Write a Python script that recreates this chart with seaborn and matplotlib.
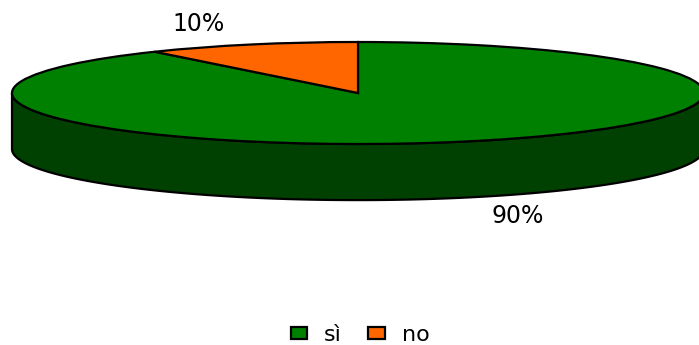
import numpy as np
import matplotlib
matplotlib.use("Agg")
import matplotlib.pyplot as plt
import matplotlib.colors as mcolors
import seaborn as sns

# Survey answers
categories = ["sì", "no"]
values = [90, 10]
colors = ["#008000", "#ff6600"]

# Where each percentage label sits (axes fraction)
label_pos = [(0.740, 0.374), (0.284, 0.930)]

sns.set_theme(style="white")
plt.rcParams["font.family"] = ["DejaVu Sans"]

fig = plt.figure(figsize=(6.99, 3.45), dpi=100)
ax = fig.add_axes([0, 0, 1, 1])

# Top face of the pie, squashed into an ellipse by the axis limits
wedges, _ = ax.pie(
    values,
    colors=colors,
    startangle=90,
    counterclock=False,
    radius=1.0,
    center=(0, 0),
    frame=False,
    wedgeprops=dict(edgecolor="black", linewidth=1.6),
)

depth = 1.10  # thickness of the disc in data units

# Side walls: only the front half (sin < 0) of each wedge is visible
for w in wedges:
    t = np.radians(np.linspace(w.theta1, w.theta2, 600))
    front = np.sin(t) <= 1e-9
    if not front.any():
        continue
    idx = np.where(front)[0]
    breaks = np.where(np.diff(idx) > 1)[0]
    for seg in np.split(idx, breaks + 1):
        ts = t[seg]
        xs = np.cos(ts)
        top = np.sin(ts)
        poly_x = np.concatenate([xs, xs[::-1]])
        poly_y = np.concatenate([top, (top - depth)[::-1]])
        rgb = np.array(mcolors.to_rgb(w.get_facecolor())) * 0.5
        ax.fill(poly_x, poly_y, color=rgb, edgecolor="black",
                linewidth=1.6, zorder=0.5)

ax.set_aspect("auto")
ax.set_xlim(-1.0347, 0.9855)
ax.set_ylim(-4.941, 1.8235)
ax.axis("off")

for v, (lx, ly) in zip(values, label_pos):
    ax.text(lx, ly, f"{v:.0f}%", transform=ax.transAxes,
            ha="center", va="center", fontsize=17, color="black")

leg = ax.legend(
    wedges, categories,
    loc="lower center", bbox_to_anchor=(0.515, -0.058),
    ncol=2, frameon=False, fontsize=16, labelcolor="black",
    handlelength=0.75, handleheight=0.45,
    handletextpad=0.75, columnspacing=1.2,
)

fig.savefig("out.png", dpi=100, facecolor="white")
